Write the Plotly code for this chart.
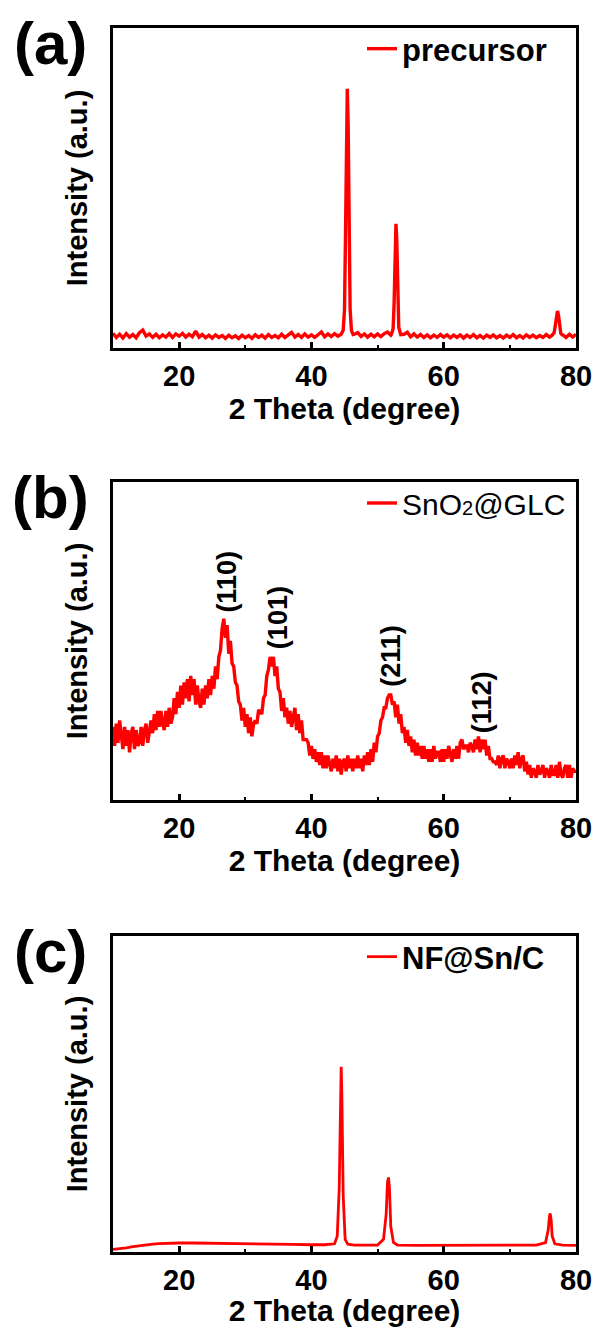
import numpy as np
import plotly.graph_objects as go

# ---------------- data ----------------
two_theta_start, two_theta_end = 10.0, 80.0

# (a) precursor: baseline sampled every 0.5 deg (10 .. 80)
a_base_step = 0.5
a_base = [
    4.6, 3.3, 4.3, 3.1, 4.5, 3.4, 4.2, 3.2, 4.8, 5.6,
    3.7, 4.4, 3.3, 4.3, 3.2, 4.1, 3.4, 4.5, 3.3, 4.4,
    3.7, 4.6, 3.4, 4.3, 3.5, 5.3, 3.4, 4.2, 3.2, 4.0,
    3.1, 4.1, 3.3, 3.9, 3.0, 4.0, 3.2, 3.8, 3.0, 4.0,
    3.2, 3.9, 3.0, 4.1, 3.3, 4.0, 3.1, 4.2, 3.3, 3.9,
    3.2, 4.3, 3.3, 4.1, 4.9, 3.4, 4.2, 3.3, 4.4, 3.4,
    4.1, 3.3, 4.3, 5.0, 3.5, 4.4, 3.6, 4.5, 3.7, 4.5,
    4.2, 4.0, 4.3, 4.3, 4.8, 3.6, 4.4, 3.4, 4.3, 3.5,
    4.4, 3.6, 4.5, 5.0, 4.0, 4.2, 4.1, 3.9, 4.3, 4.9,
    3.5, 4.4, 3.4, 4.2, 3.3, 4.1, 3.2, 4.0, 3.3, 4.2,
    3.4, 4.1, 3.2, 4.0, 3.3, 4.1, 3.1, 4.0, 3.3, 4.2,
    3.2, 3.9, 3.1, 4.0, 3.3, 4.1, 3.2, 3.9, 3.1, 4.0,
    3.3, 4.2, 3.2, 3.9, 3.1, 4.1, 3.3, 4.0, 3.2, 3.9,
    3.3, 4.2, 3.4, 4.0, 4.0, 3.8, 4.1, 3.3, 4.3, 3.4,
    4.3,
]
a_peak1_x = [44.5, 44.8, 45.0, 45.15, 45.3, 45.42, 45.55, 45.7, 45.85, 46.05, 46.3]
a_peak1_y = [4.3, 5.5, 12, 35, 68, 81, 70, 36, 12, 5.5, 4.2]
a_peak2_x = [52.1, 52.35, 52.5, 52.65, 52.78, 52.9, 53.05, 53.2, 53.5]
a_peak2_y = [4.3, 6, 14, 32, 38.8, 34, 16, 6.5, 4.2]
a_peak3_x = [76.4, 76.7, 76.9, 77.05, 77.2, 77.35, 77.5, 77.7, 77.9]
a_peak3_y = [4.0, 4.8, 7.5, 10.5, 11.6, 10.3, 7.0, 4.6, 4.1]

# (b) SnO2@GLC: sampled every 0.25 deg (10 .. 80), one row per degree
b_step = 0.25
b_vals = [
    23, 17, 24, 18,   # 10
    25, 19, 16, 23,   # 11
    17, 22, 15, 21,   # 12
    23, 16, 22, 17,   # 13
    18, 23, 17, 22,   # 14
    24, 18, 22, 25,   # 15
    21, 27, 22, 28,   # 16
    23, 28, 24, 22,   # 17
    28, 23, 29, 24,   # 18
    26, 32, 27, 34,   # 19
    29, 36, 30, 37,   # 20
    32, 38, 31, 39,   # 21
    33, 38, 30, 36,   # 22
    31, 29, 35, 30,   # 23
    36, 32, 38, 33,   # 24
    39, 35, 42, 38,   # 25
    45, 47, 54, 57,   # 26
    51, 55, 46, 50,   # 27
    43, 42, 37, 36,   # 28
    31, 30, 25, 29,   # 29
    23, 27, 21, 26,   # 30
    20, 24, 25, 24,   # 31
    28, 28, 27, 32,   # 32
    33, 39, 41, 45,   # 33
    42, 45, 39, 42,   # 34
    35, 34, 28, 32,   # 35
    26, 29, 24, 28,   # 36
    23, 26, 29, 22,   # 37
    27, 21, 25, 19,   # 38
    19, 19, 18, 14,   # 39
    17, 13, 16, 12,   # 40
    15, 11, 15, 10,   # 41
    14, 10, 14, 11,   # 42
    9, 13, 10, 14,    # 43
    9, 13, 8, 12,     # 44
    13, 9, 14, 10,    # 45
    13, 9, 13, 10,    # 46
    14, 10, 13, 9,    # 47
    14, 11, 15, 11,   # 48
    16, 12, 18, 15,   # 49
    20, 21, 25, 26,   # 50
    29, 29, 32, 33,   # 51
    33, 30, 31, 26,   # 52
    30, 24, 27, 21,   # 53
    23, 18, 22, 17,   # 54
    20, 15, 19, 14,   # 55
    18, 14, 17, 13,   # 56
    17, 13, 16, 12,   # 57
    16, 12, 17, 13,   # 58
    15, 15, 12, 16,   # 59
    12, 16, 13, 17,   # 60
    15, 12, 16, 13,   # 61
    17, 13, 18, 19,   # 62
    16, 17, 17, 15,   # 63
    18, 17, 15, 19,   # 64
    16, 20, 15, 19,   # 65
    16, 19, 14, 17,   # 66
    13, 13, 12, 12,   # 67
    11, 14, 10, 13,   # 68
    14, 10, 13, 12,   # 69
    10, 13, 10, 14,   # 70
    11, 15, 10, 13,   # 71
    14, 9, 12, 8,     # 72
    11, 7, 10, 9,     # 73
    7, 11, 8, 9,      # 74
    11, 7, 10, 9,     # 75
    7, 11, 8, 8,      # 76
    11, 7, 12, 8,     # 77
    7, 10, 11, 7,     # 78
    11, 7, 10, 9,     # 79
    9,                # 80
]
b_hkl = ["(110)", "(101)", "(211)", "(112)"]
b_hkl_x = [27.2, 34.95, 52.0, 65.8]
b_hkl_y = [68.6, 57.2, 45.3, 30.8]

# (c) NF@Sn/C: smooth pattern
c_x = [10, 11, 12, 13, 14, 15, 16, 17, 18, 19, 20, 22, 25, 28, 31, 34, 37, 40, 42,
       43.5, 43.9, 44.2, 44.4, 44.5, 44.6, 44.8, 45.1, 45.5, 46.5, 48, 50,
       50.9, 51.3, 51.5, 51.65, 51.8, 52.0, 52.4, 53, 56, 60, 65, 70, 74,
       75.4, 75.8, 76.0, 76.1, 76.25, 76.4, 76.8, 78, 80]
c_y = [0.8, 1.0, 1.3, 1.7, 2.0, 2.3, 2.5, 2.65, 2.75, 2.8, 2.85, 2.85, 2.8, 2.7, 2.6, 2.5, 2.4, 2.3, 2.3,
       2.6, 5, 20, 50, 58.6, 50, 18, 4, 2.5, 2.2, 2.1, 2.2,
       4, 12, 22, 23.6, 20, 8, 3, 2.2, 2.1, 2.1, 2.1, 2.1, 2.2,
       3.0, 7, 11.5, 12.2, 10, 5, 2.6, 2.2, 2.1]

names = ["precursor", "SnO<span style='font-size:20px'>2</span>@GLC", "NF@Sn/C"]
panel_labels = ["(a)", "(b)", "(c)"]
x_title = "2 Theta (degree)"
y_title = "Intensity (a.u.)"


# ---------------- assemble series ----------------
def merged(base_x, base_y, peaks):
    bx = np.asarray(base_x, float)
    by = np.asarray(base_y, float)
    keep = np.ones(bx.size, bool)
    xs, ys = [], []
    for px, py in peaks:
        keep &= ~((bx >= min(px)) & (bx <= max(px)))
        xs += list(px)
        ys += list(py)
    allx = np.concatenate([bx[keep], xs])
    ally = np.concatenate([by[keep], ys])
    order = np.argsort(allx)
    return allx[order], ally[order]


a_grid = np.round(np.arange(two_theta_start, two_theta_end + 1e-9, a_base_step), 3)
a_x, a_y = merged(a_grid, a_base,
                  [(a_peak1_x, a_peak1_y), (a_peak2_x, a_peak2_y), (a_peak3_x, a_peak3_y)])
b_x = np.round(np.arange(two_theta_start, two_theta_end + 1e-9, b_step), 3)
b_y = np.asarray(b_vals, float)

series = [(a_x, a_y), (b_x, b_y), (np.asarray(c_x), np.asarray(c_y))]

# ---------------- figure ----------------
W, H = 598, 1327
x_dom = [113 / W, 576 / W]
boxes = [(28, 348), (482, 800), (936, 1252)]  # top, bottom in px
RED = "#ff0000"
FONT = "Liberation Sans, Arial, sans-serif"

fig = go.Figure()
lw = [3.4, 3.4, 2.8]
for i, (sx, sy) in enumerate(series):
    k = "" if i == 0 else str(i + 1)
    fig.add_trace(go.Scatter(
        x=sx, y=sy, mode="lines", name=names[i],
        line=dict(color=RED, width=lw[i]),
        xaxis="x" + k, yaxis="y" + k,
        legend="legend" + k, showlegend=True,
    ))

layout = dict(
    template="none",
    width=W, height=H, autosize=False,
    margin=dict(l=0, r=0, t=0, b=0, pad=0),
    paper_bgcolor="white", plot_bgcolor="white",
    font=dict(family=FONT, color="black"),
    annotations=[],
)

for i, (top, bot) in enumerate(boxes):
    k = "" if i == 0 else str(i + 1)
    y_dom = [1 - bot / H, 1 - top / H]
    layout["xaxis" + k] = dict(
        domain=x_dom, range=[two_theta_start, two_theta_end], anchor="y" + k,
        automargin=False,
        showline=True, linecolor="black", linewidth=3, mirror=True,
        showgrid=False, zeroline=False,
        ticks="inside", ticklen=6, tickwidth=2.5, tickcolor="black",
        tick0=0, dtick=20,
        minor=dict(ticks="inside", tick0=0, dtick=10, ticklen=3.5, tickwidth=2, tickcolor="black",
                   showgrid=False),
        tickfont=dict(family=FONT, size=29, weight="bold", color="black"),
        title=dict(text=x_title, font=dict(family=FONT, size=30, weight="bold", color="black"), standoff=0),
    )
    layout["yaxis" + k] = dict(
        domain=y_dom, range=[0, 100], anchor="x" + k,
        automargin=False,
        showline=True, linecolor="black", linewidth=3, mirror=True,
        showgrid=False, zeroline=False, ticks="", showticklabels=False,
        title=dict(text=y_title, font=dict(family=FONT, size=29, weight="bold", color="black"), standoff=14),
    )
    legend_font = dict(family=FONT, size=30 if i == 1 else 31, color="black",
                       weight="normal" if i == 1 else "bold")
    layout["legend" + k] = dict(
        x=362 / W, y=1 - (top + 21) / H, xanchor="left", yanchor="middle",
        bgcolor="rgba(0,0,0,0)", borderwidth=0, font=legend_font,
        itemwidth=30, tracegroupgap=0,
    )
    layout["annotations"].append(dict(
        text="<b>%s</b>" % panel_labels[i], xref="paper", yref="paper",
        x=50 / W, y=1 - (top + 15) / H, xanchor="center", yanchor="middle",
        showarrow=False, font=dict(family=FONT, size=60, color="black"),
    ))

for lab, hx, hy in zip(b_hkl, b_hkl_x, b_hkl_y):
    layout["annotations"].append(dict(
        text="<b>%s</b>" % lab, xref="x2", yref="y2", x=hx, y=hy,
        textangle=-90, showarrow=False, xanchor="center", yanchor="middle",
        font=dict(family=FONT, size=27, color="black"),
    ))

fig.update_layout(**layout)
fig.write_html("out.html")
